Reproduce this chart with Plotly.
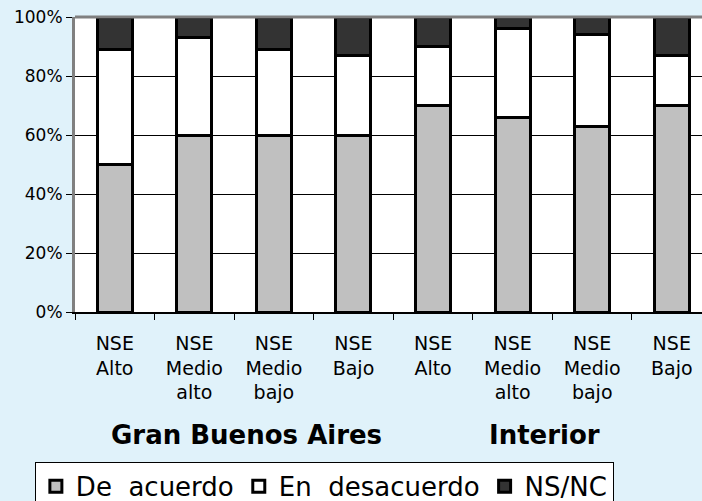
import plotly.graph_objects as go

# Categories (socio-economic level) within each region
categories = ["GBA Alto", "GBA Medio alto", "GBA Medio bajo", "GBA Bajo",
              "INT Alto", "INT Medio alto", "INT Medio bajo", "INT Bajo"]
tick_labels = ["NSE<br>Alto", "NSE<br>Medio<br>alto", "NSE<br>Medio<br>bajo", "NSE<br>Bajo",
               "NSE<br>Alto", "NSE<br>Medio<br>alto", "NSE<br>Medio<br>bajo", "NSE<br>Bajo"]
group_labels = ["Gran Buenos Aires", "Interior"]

# Shares (fractions of 1) per answer
de_acuerdo = [0.50, 0.60, 0.60, 0.60, 0.70, 0.66, 0.63, 0.70]
en_desacuerdo = [0.39, 0.33, 0.29, 0.27, 0.20, 0.30, 0.31, 0.17]
ns_nc = [0.11, 0.07, 0.11, 0.13, 0.10, 0.04, 0.06, 0.13]

series = [
    ("De  acuerdo", de_acuerdo, "#c0c0c0"),
    ("En  desacuerdo", en_desacuerdo, "#ffffff"),
    ("NS/NC", ns_nc, "#333333"),
]

FONT = "DejaVu Sans, Verdana, sans-serif"
BG = "#e0f2fa"

fig = go.Figure()
for name, vals, color in series:
    fig.add_trace(go.Bar(
        x=categories, y=vals, name=name,
        marker=dict(color=color, line=dict(color="#000000", width=3)),
        width=0.44,
    ))

fig.update_layout(
    barmode="stack",
    width=702, height=501,
    margin=dict(l=75, r=0, t=17, b=189, autoexpand=False),
    paper_bgcolor=BG,
    plot_bgcolor="#ffffff",
    font=dict(family=FONT, color="#000000"),
    showlegend=True,
    legend=dict(
        orientation="h",
        x=-0.064, xanchor="left",
        y=-0.508, yanchor="top",
        bgcolor="#ffffff",
        bordercolor="#000000", borderwidth=1,
        font=dict(size=26, family=FONT, color="#000000"),
        traceorder="normal",
        itemwidth=30,
    ),
    bargap=0.5,
)

fig.update_xaxes(
    type="category",
    tickmode="array",
    tickvals=categories,
    ticktext=tick_labels,
    range=[-0.5, 7.38],
    tickson="boundaries",
    ticks="outside", ticklen=6, tickcolor="#000000", tickwidth=1,
    showline=True, linecolor="#000000", linewidth=2,
    showgrid=False,
    tickfont=dict(size=19, family=FONT, color="#000000"),
    tickangle=0,
    ticklabelstandoff=13,
    automargin=False,
)

fig.update_yaxes(
    range=[0, 1],
    tickvals=[0, 0.2, 0.4, 0.6, 0.8, 1.0],
    ticktext=["0%", "20%", "40%", "60%", "80%", "100%"],
    ticks="outside", ticklen=6, tickcolor="#000000", tickwidth=1,
    showline=True, linecolor="#808080", linewidth=3,
    showgrid=True, gridcolor="#000000", gridwidth=1,
    zeroline=False,
    tickfont=dict(size=17, family=FONT, color="#000000"),
    automargin=False,
)

# Gray top border of the plot area
fig.add_shape(type="line", xref="paper", yref="paper",
              x0=0, x1=1, y0=1, y1=1,
              line=dict(color="#808080", width=3))

# Region labels under the category axis
for label, xpos in zip(group_labels, [1.66, 5.4]):
    fig.add_annotation(
        text=f"<b>{label}</b>", x=xpos, xref="x",
        y=-0.417, yref="paper", yanchor="middle", xanchor="center",
        showarrow=False,
        font=dict(size=26, family=FONT, color="#000000"),
    )

fig.write_html("out.html")
